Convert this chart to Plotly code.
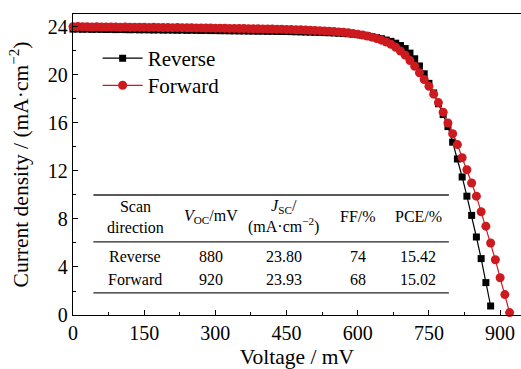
import plotly.graph_objects as go

# Voltage grids (mV)
v_rev = list(range(0, 890, 10))
v_fwd = list(range(0, 930, 10))

# Reverse scan current density (mA cm^-2)
j_rev = [
    23.82, 23.83, 23.81, 23.82, 23.80, 23.81, 23.80, 23.79, 23.80, 23.78,
    23.79, 23.78, 23.77, 23.78, 23.76, 23.77, 23.76, 23.75, 23.76, 23.74,
    23.75, 23.74, 23.73, 23.74, 23.72, 23.73, 23.72, 23.71, 23.72, 23.70,
    23.70, 23.69, 23.69, 23.68, 23.68, 23.67, 23.67, 23.66, 23.66, 23.65,
    23.65, 23.64, 23.64, 23.63, 23.62, 23.62, 23.61, 23.60, 23.59, 23.58,
    23.57, 23.56, 23.55, 23.53, 23.52, 23.50, 23.48, 23.46, 23.43, 23.40,
    23.36, 23.31, 23.26, 23.19, 23.11, 23.02, 22.91, 22.80, 22.65, 22.45,
    22.20, 21.82, 21.35, 20.75, 20.10, 19.30, 18.50, 17.60, 16.70, 15.70,
    14.40, 13.00, 11.50, 9.90, 8.30, 6.50, 4.70, 2.70, 0.75,
]

# Forward scan current density (mA cm^-2)
j_fwd = [
    24.02, 24.03, 24.01, 24.02, 24.00, 24.01, 24.00, 23.99, 24.00, 23.99,
    23.98, 23.99, 23.98, 23.97, 23.98, 23.97, 23.96, 23.97, 23.96, 23.95,
    23.95, 23.94, 23.95, 23.94, 23.93, 23.93, 23.92, 23.92, 23.91, 23.91,
    23.90, 23.90, 23.89, 23.88, 23.88, 23.87, 23.87, 23.86, 23.85, 23.85,
    23.84, 23.83, 23.82, 23.81, 23.80, 23.79, 23.78, 23.77, 23.76, 23.74,
    23.73, 23.71, 23.69, 23.67, 23.65, 23.62, 23.59, 23.55, 23.51, 23.46,
    23.40, 23.33, 23.25, 23.15, 23.03, 22.90, 22.75, 22.55, 22.30, 22.00,
    21.65, 21.20, 20.72, 20.18, 19.62, 19.05, 18.40, 17.70, 16.90, 16.00,
    15.10, 14.20, 13.10, 12.10, 11.00, 9.90, 8.60, 7.40, 6.00, 4.60,
    3.10, 1.70, 0.20,
]

# Table content
tbl_cols = ["Scan<br>direction", "<i>V</i><sub>OC</sub>/mV",
            "<i>J</i><sub>SC</sub>/<br>(mA·cm<sup>−2</sup>)", "FF/%", "PCE/%"]
tbl_rows = [
    ["Reverse", "880", "23.80", "74", "15.42"],
    ["Forward", "920", "23.93", "68", "15.02"],
]
tbl_col_x = [131, 290, 444, 600, 727]
tbl_row_y = [4.9, 3.0]
tbl_head_y = 8.2
tbl_lines_y = [10.0, 6.1, 1.85]
tbl_x_span = [43, 792]

FONT = "Liberation Serif"
RED = "#CC1A1F"
TXT = dict(family=FONT, size=20, color="black")
TITLE = dict(family=FONT, size=21.5, color="black")
LEG = dict(family=FONT, size=21, color="black")

fig = go.Figure()
fig.add_trace(go.Scatter(
    x=v_rev, y=j_rev, name="Reverse", mode="lines+markers",
    line=dict(color="black", width=1.2),
    marker=dict(symbol="square", size=7, color="black"),
    cliponaxis=False, legend="legend",
))
fig.add_trace(go.Scatter(
    x=v_fwd, y=j_fwd, name="Forward", mode="lines+markers",
    line=dict(color=RED, width=1.2),
    marker=dict(symbol="circle", size=9, color=RED),
    cliponaxis=False, legend="legend2",
))

for y in tbl_lines_y:
    fig.add_shape(type="line", xref="x", yref="y",
                  x0=tbl_x_span[0], x1=tbl_x_span[1], y0=y, y1=y,
                  line=dict(color="#222", width=1.3))

for cx, txt in zip(tbl_col_x, tbl_cols):
    fig.add_annotation(x=cx, y=tbl_head_y, xref="x", yref="y", text=txt,
                       showarrow=False, font=dict(family=FONT, size=16, color="black"),
                       align="center")
for ry, row in zip(tbl_row_y, tbl_rows):
    for cx, txt in zip(tbl_col_x, row):
        fig.add_annotation(x=cx, y=ry, xref="x", yref="y", text=txt,
                           showarrow=False, font=dict(family=FONT, size=16, color="black"))

fig.update_layout(
    width=521, height=369,
    margin=dict(l=73, r=0, t=14, b=54),
    paper_bgcolor="white", plot_bgcolor="white",
    font=TXT,
    showlegend=True,
    legend=dict(x=0.055, y=0.852, xanchor="left", yanchor="middle",
                bgcolor="rgba(0,0,0,0)", font=LEG, itemwidth=40),
    legend2=dict(x=0.055, y=0.762, xanchor="left", yanchor="middle",
                 bgcolor="rgba(0,0,0,0)", font=LEG, itemwidth=40),
    xaxis=dict(range=[0, 944], tickvals=[0, 150, 300, 450, 600, 750, 900],
               tickfont=TXT,
               ticks="inside", ticklen=5, tickwidth=1, tickcolor="black",
               minor=dict(tickvals=[75, 225, 375, 525, 675, 825], ticks="inside", ticklen=3, tickcolor="black"),
               showline=True, linecolor="black", linewidth=1.3, mirror=True,
               showgrid=False, zeroline=False,
               title=dict(text="Voltage / mV", standoff=11, font=TITLE)),
    yaxis=dict(range=[0, 25.08], tickvals=[0, 4, 8, 12, 16, 20, 24],
               tickfont=TXT,
               ticks="inside", ticklen=5, tickwidth=1, tickcolor="black",
               minor=dict(tickvals=[2, 6, 10, 14, 18, 22], ticks="inside", ticklen=3, tickcolor="black"),
               showline=True, linecolor="black", linewidth=1.3,
               showgrid=False, zeroline=False,
               title=dict(text="Current density / (mA·cm<sup>−2</sup>)", standoff=13, font=TITLE)),
)

fig.write_html("out.html")
